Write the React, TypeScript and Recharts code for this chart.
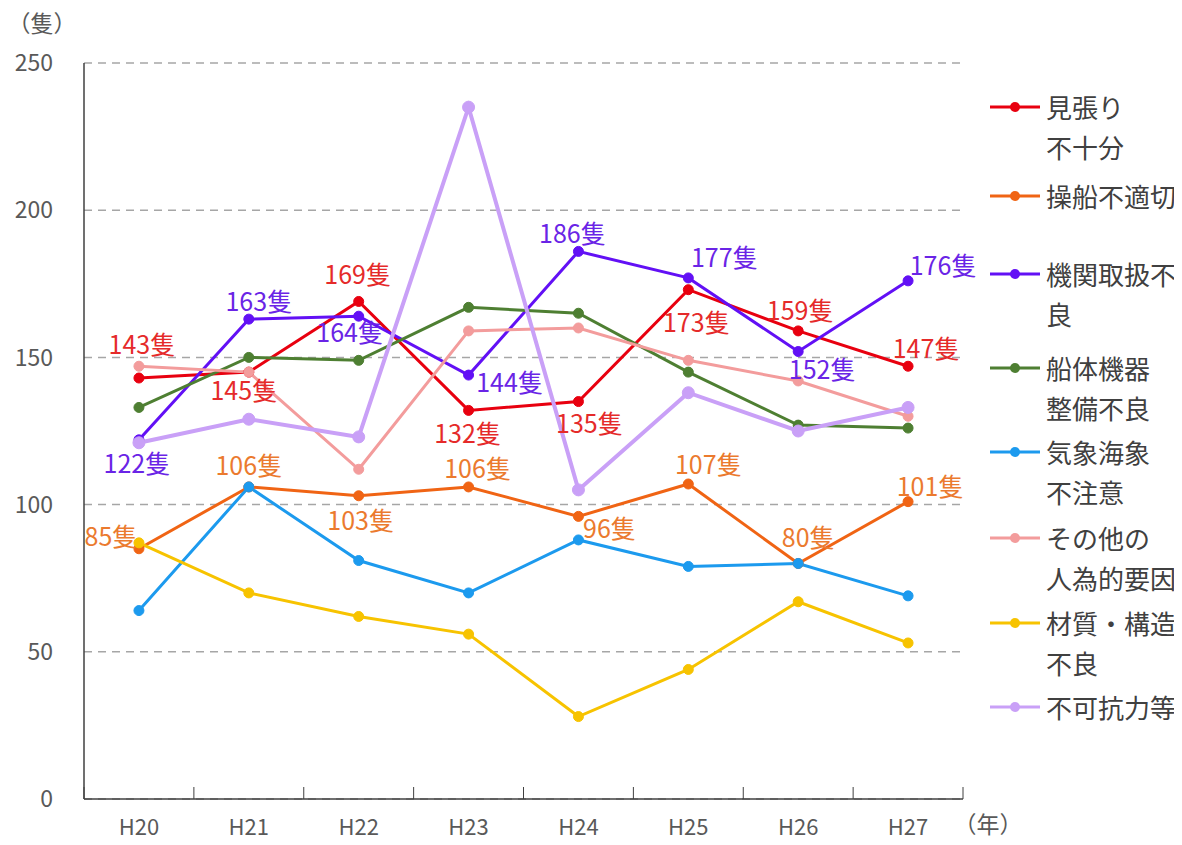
import { LineChart, Line, XAxis, YAxis, CartesianGrid, LabelList } from 'recharts';

// 年度（平成）
const years = ['H20', 'H21', 'H22', 'H23', 'H24', 'H25', 'H26', 'H27'];

// 原因別の隻数
const mihari = [143, 145, 169, 132, 135, 173, 159, 147];
const sosen = [85, 106, 103, 106, 96, 107, 80, 101];
const kikan = [122, 163, 164, 144, 186, 177, 152, 176];
const sentai = [133, 150, 149, 167, 165, 145, 127, 126];
const kisho = [64, 106, 81, 70, 88, 79, 80, 69];
const sonota = [147, 145, 112, 159, 160, 149, 142, 130];
const zaishitsu = [87, 70, 62, 56, 28, 44, 67, 53];
const fuka = [121, 129, 123, 235, 105, 138, 125, 133];

const yTicks = [0, 50, 100, 150, 200, 250];

// ラベルの位置ずらし（点からの dx, dy）
const mihariLabelPos = [[3, -35], [-5, 17], [-1, -28], [-1, 22], [11, 20], [8, 31], [2, -22], [18, -19]];
const sosenLabelPos = [[-28, -14], [0, -23], [2, 23], [9, -20], [31, 11], [20, -21], [10, -27], [22, -17]];
const kikanLabelPos = [[-2, 22], [10, -19], [-9, 15], [41, 6], [-6, -19], [36, -22], [24, 16], [35, -17]];

const FONT = '"Noto Sans CJK JP", "Noto Sans", sans-serif';

const rows = years.map((year, i) => ({
  idx: i,
  year,
  mihari: mihari[i],
  sosen: sosen[i],
  kikan: kikan[i],
  sentai: sentai[i],
  kisho: kisho[i],
  sonota: sonota[i],
  zaishitsu: zaishitsu[i],
  fuka: fuka[i],
}));

interface Series {
  key: string;
  name: string[];
  color: string;
  width: number;
  r: number;
  labelColor?: string;
  labelPos?: number[][];
}

const series: Series[] = [
  { key: 'mihari', name: ['見張り', '不十分'], color: '#E8000F', width: 3, r: 5, labelColor: '#E52A2A', labelPos: mihariLabelPos },
  { key: 'sosen', name: ['操船不適切'], color: '#F06414', width: 3, r: 5, labelColor: '#EB7A2E', labelPos: sosenLabelPos },
  { key: 'kikan', name: ['機関取扱不', '良'], color: '#6210F5', width: 3, r: 5, labelColor: '#6A24E6', labelPos: kikanLabelPos },
  { key: 'sentai', name: ['船体機器', '整備不良'], color: '#4E7F32', width: 3, r: 5 },
  { key: 'kisho', name: ['気象海象', '不注意'], color: '#1C9AEE', width: 3, r: 5 },
  { key: 'sonota', name: ['その他の', '人為的要因'], color: '#F39C9C', width: 3, r: 5 },
  { key: 'zaishitsu', name: ['材質・構造', '不良'], color: '#F7C300', width: 3, r: 5 },
  { key: 'fuka', name: ['不可抗力等'], color: '#C9A0F7', width: 4, r: 6 },
];

// 凡例の各項目（1行目の中心）の位置
const legendTops = [107, 196, 274, 368, 452, 538, 623, 707];

const makeLabel = (s: Series) => (props: any) => {
  const { x, y, value, index } = props;
  const pos = s.labelPos ? s.labelPos[index] : [0, -20];
  return (
    <text
      x={x + pos[0]}
      y={y + pos[1]}
      textAnchor="middle"
      dominantBaseline="central"
      fill={s.labelColor}
      fontSize={25}
      fontFamily={FONT}
    >
      {value}隻
    </text>
  );
};

const boundaryTicks = [-0.5, 0.5, 1.5, 2.5, 3.5, 4.5, 5.5, 6.5, 7.5];

export default function App() {
  return (
    <div style={{ position: 'relative', width: 1182, height: 845, margin: -8, background: '#fff', fontFamily: FONT }}>
      <LineChart
        width={1182}
        height={845}
        data={rows}
        margin={{ top: 63, right: 219, left: 0, bottom: 0 }}
      >
        <CartesianGrid vertical={false} stroke="#A6A6A6" strokeDasharray="8 6" strokeWidth={1.5} />
        <XAxis
          xAxisId="edge"
          dataKey="idx"
          type="number"
          domain={[-0.5, 7.5]}
          ticks={boundaryTicks}
          height={1}
          mirror
          tickSize={12}
          tick={() => <g />}
          tickLine={{ stroke: '#404040', strokeWidth: 1 }}
          axisLine={{ stroke: '#404040', strokeWidth: 1.5 }}
        />
        <XAxis
          dataKey="idx"
          type="number"
          domain={[-0.5, 7.5]}
          ticks={[0, 1, 2, 3, 4, 5, 6, 7]}
          tickFormatter={(v: number) => years[v]}
          height={46}
          axisLine={false}
          tickLine={false}
          tickSize={0}
          tickMargin={20}
          tick={{ fill: '#595959', fontSize: 22, fontFamily: FONT }}
        />
        <YAxis
          domain={[0, 250]}
          ticks={yTicks}
          width={84}
          tickLine={false}
          tickMargin={25}
          axisLine={{ stroke: '#404040', strokeWidth: 1.5 }}
          tick={{ fill: '#595959', fontSize: 23, fontFamily: FONT }}
        />
        {series.map((s) => (
          <Line
            key={s.key}
            type="linear"
            dataKey={s.key}
            stroke={s.color}
            strokeWidth={s.width}
            dot={{ r: s.r, fill: s.color, stroke: s.color, strokeWidth: 1 }}
            activeDot={false}
            isAnimationActive={false}
          >
            {s.labelColor && <LabelList dataKey={s.key} content={makeLabel(s)} />}
          </Line>
        ))}
      </LineChart>

      <svg width={1182} height={845} style={{ position: 'absolute', left: 0, top: 0, pointerEvents: 'none' }}>
        <text x={42} y={22} textAnchor="middle" dominantBaseline="central" fontSize={23} fill="#595959" fontFamily={FONT}>
          （隻）
        </text>
        <text x={988} y={823} textAnchor="middle" dominantBaseline="central" fontSize={23} fill="#595959" fontFamily={FONT}>
          （年）
        </text>
      </svg>

      {series.map((s, i) => (
        <div key={s.key} style={{ position: 'absolute', left: 988, top: legendTops[i] - 20, display: 'flex', alignItems: 'flex-start' }}>
          <svg width={54} height={40} style={{ flex: 'none' }}>
            <line x1={2} y1={20} x2={52} y2={20} stroke={s.color} strokeWidth={3} />
            <circle cx={27} cy={20} r={5} fill={s.color} />
          </svg>
          <div style={{ marginLeft: 4, fontSize: 26, lineHeight: '40px', color: '#404040', whiteSpace: 'nowrap' }}>
            {s.name.map((n) => (
              <div key={n}>{n}</div>
            ))}
          </div>
        </div>
      ))}
    </div>
  );
}
